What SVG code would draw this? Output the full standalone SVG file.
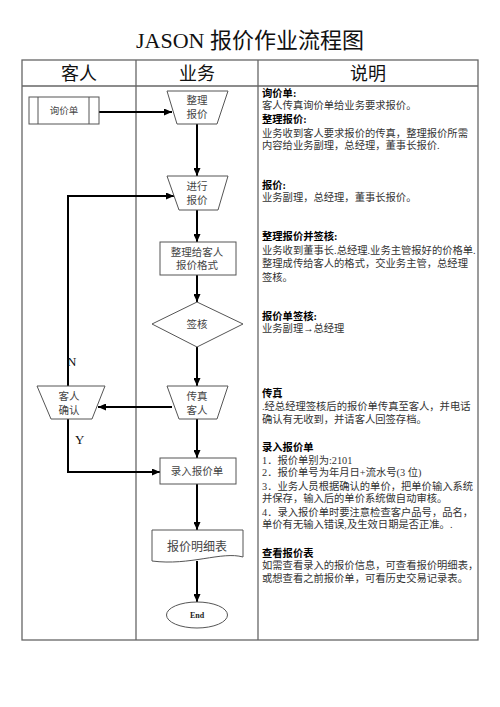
<svg xmlns="http://www.w3.org/2000/svg" width="500" height="707" viewBox="0 0 500 707">
<style>
.tbl{fill:none;stroke:#666;stroke-width:1.3}
.shape{fill:#fff;stroke:#555;stroke-width:1}
.conn{fill:none;stroke:#000;stroke-width:2}
.title{font-family:"Liberation Serif","Noto Sans CJK SC",serif;font-size:22px;fill:#111}
.hdr{font-family:"Liberation Serif","Noto Sans CJK SC",serif;font-size:18px;fill:#111;text-anchor:middle}
.nt{font-family:"Liberation Serif","Noto Sans CJK SC",serif;font-size:10.5px;fill:#444;text-anchor:middle}
.desc{font-family:"Liberation Serif","Noto Sans CJK SC",serif;font-size:10.3px;fill:#333}
.dh{font-family:"Liberation Serif","Noto Sans CJK SC",serif;font-size:10.3px;fill:#000;font-weight:bold}
.lbl{font-family:"Liberation Serif",serif;font-size:13px;fill:#111}
</style>
<defs>
<marker id="arr" markerUnits="userSpaceOnUse" markerWidth="8" markerHeight="7" refX="8" refY="3.5" orient="auto">
<path d="M0,0 L8,3.5 L0,7 z" fill="#000"/>
</marker>
</defs>
<rect width="500" height="707" fill="#fff"/>
<text class="title" x="250" y="48" text-anchor="middle">JASON 报价作业流程图</text>
<g id="table">
<rect class="tbl" x="22" y="60" width="456" height="580"/>
<line class="tbl" x1="22" y1="86" x2="478" y2="86"/>
<line class="tbl" x1="136" y1="60" x2="136" y2="640"/>
<line class="tbl" x1="258" y1="60" x2="258" y2="640"/>
<text class="hdr" x="79" y="80">客人</text>
<text class="hdr" x="197" y="80">业务</text>
<text class="hdr" x="368" y="80">说明</text>
</g>
<g id="connectors">
<path class="conn" d="M99,112 H172" marker-end="url(#arr)"/>
<path class="conn" d="M197,124 V176" marker-end="url(#arr)"/>
<path class="conn" d="M68,386 V196 H174" marker-end="url(#arr)"/>
<path class="conn" d="M197,210 V242" marker-end="url(#arr)"/>
<path class="conn" d="M197,275 V302" marker-end="url(#arr)"/>
<path class="conn" d="M197,347 V386" marker-end="url(#arr)"/>
<path class="conn" d="M172,407 H98" marker-end="url(#arr)"/>
<path class="conn" d="M197,419 V458" marker-end="url(#arr)"/>
<path class="conn" d="M68,419 V472 H160" marker-end="url(#arr)"/>
<path class="conn" d="M197,484 V530" marker-end="url(#arr)"/>
<path class="conn" d="M197,561 V602" marker-end="url(#arr)"/>
<text class="lbl" x="67" y="366">N</text>
<text class="lbl" x="75" y="444">Y</text>
</g>
<g id="n-xunjiadan">
<rect class="shape" x="29" y="97" width="70" height="27"/>
<line class="shape" x1="38" y1="97" x2="38" y2="124"/>
<line class="shape" x1="89" y1="97" x2="89" y2="124"/>
<text class="nt" x="64" y="114" style="font-size:9.5px">询价单</text>
</g>
<g id="n-zhengli">
<polygon class="shape" points="167,91 228,91 217,124 177,124"/>
<text class="nt" x="197" y="104">整理</text>
<text class="nt" x="197" y="118">报价</text>
</g>
<g id="n-jinxing">
<polygon class="shape" points="167,176 228,176 218,210 179,210"/>
<text class="nt" x="197" y="190">进行</text>
<text class="nt" x="197" y="204">报价</text>
</g>
<g id="n-geshi">
<rect class="shape" x="160" y="242" width="76" height="33"/>
<text class="nt" x="197" y="256">整理给客人</text>
<text class="nt" x="197" y="269">报价格式</text>
</g>
<g id="n-qianhe">
<polygon class="shape" points="197,302 243,324 197,347 152,324"/>
<text class="nt" x="197" y="328">签核</text>
</g>
<g id="n-chuanzhen">
<polygon class="shape" points="167,386 228,386 217,419 179,419"/>
<text class="nt" x="197" y="400">传真</text>
<text class="nt" x="197" y="414">客人</text>
</g>
<g id="n-queren">
<polygon class="shape" points="37,386 105,386 92,419 51,419"/>
<text class="nt" x="69" y="400">客人</text>
<text class="nt" x="69" y="414">确认</text>
</g>
<g id="n-luru">
<rect class="shape" x="160" y="458" width="76" height="26"/>
<text class="nt" x="197" y="475">录入报价单</text>
</g>
<g id="n-mingxi">
<path class="shape" d="M152,530 H243 V557 C222,551 190,566 152,561 Z"/>
<text class="nt" x="197" y="551" style="font-size:12px">报价明细表</text>
</g>
<g id="n-end">
<ellipse class="shape" cx="197" cy="615" rx="30.5" ry="13"/>
<text class="nt" x="197" y="618" style="font-size:8px;font-weight:bold;fill:#222">End</text>
</g>
<g id="description">
<text class="dh" x="262" y="97">询价单:</text>
<text class="desc" x="262" y="109">客人传真询价单给业务要求报价。</text>
<text class="dh" x="262" y="123">整理报价:</text>
<text class="desc" x="262" y="137">业务收到客人要求报价的传真，整理报价所需</text>
<text class="desc" x="262" y="149">内容给业务副理，总经理，董事长报价.</text>
<text class="dh" x="262" y="189">报价:</text>
<text class="desc" x="262" y="201">业务副理，总经理，董事长报价。</text>
<text class="dh" x="262" y="240">整理报价并签核:</text>
<text class="desc" x="262" y="254">业务收到董事长.总经理.业务主管报好的价格单.</text>
<text class="desc" x="262" y="267">整理成传给客人的格式，交业务主管，总经理</text>
<text class="desc" x="262" y="281">签核。</text>
<text class="dh" x="262" y="320">报价单签核:</text>
<text class="desc" x="262" y="332">业务副理→总经理</text>
<text class="dh" x="262" y="397">传真</text>
<text class="desc" x="262" y="410">.经总经理签核后的报价单传真至客人，并电话</text>
<text class="desc" x="262" y="423">确认有无收到，并请客人回签存档。</text>
<text class="dh" x="262" y="451">录入报价单</text>
<text class="desc" x="262" y="464">1．报价单别为:2101</text>
<text class="desc" x="262" y="476">2．报价单号为年月日+流水号(3 位)</text>
<text class="desc" x="262" y="490">3．业务人员根据确认的单价，把单价输入系统</text>
<text class="desc" x="262" y="502">并保存，输入后的单价系统做自动审核。</text>
<text class="desc" x="262" y="516">4．录入报价单时要注意检查客户品号，品名，</text>
<text class="desc" x="262" y="528">单价有无输入错误,及生效日期是否正准。.</text>
<text class="dh" x="262" y="557">查看报价表</text>
<text class="desc" x="262" y="569">如需查看录入的报价信息，可查看报价明细表，</text>
<text class="desc" x="262" y="582">或想查看之前报价单，可看历史交易记录表。</text>
</g>
</svg>
